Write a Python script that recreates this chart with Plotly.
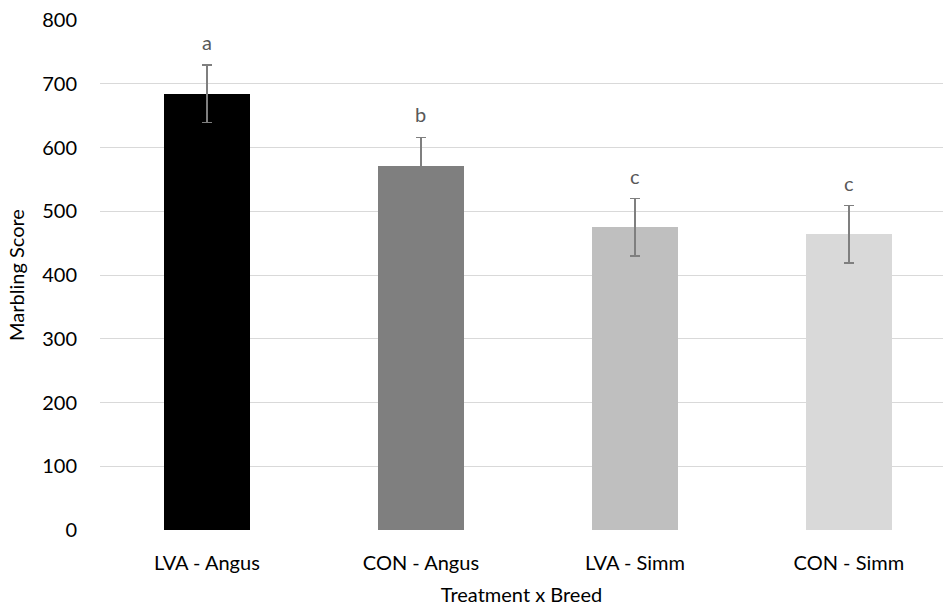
import plotly.graph_objects as go

# Marbling score by treatment x breed
categories = ["LVA - Angus", "CON - Angus", "LVA - Simm", "CON - Simm"]
marbling = [684, 571, 475, 464]
sem = [45, 45, 45, 45]
letters = ["a", "b", "c", "c"]
bar_colors = ["#000000", "#7f7f7f", "#bfbfbf", "#d9d9d9"]
y_ticks = [0, 100, 200, 300, 400, 500, 600, 700, 800]

FONT = "Lato"
SIZE = 20

fig = go.Figure()
fig.add_trace(go.Bar(
    x=list(range(len(categories))),
    y=marbling,
    width=0.4,
    marker=dict(color=bar_colors, line=dict(width=0)),
    error_y=dict(type="data", array=sem, visible=True,
                 color="#7f7f7f", thickness=1.6, width=5),
    showlegend=False,
    hoverinfo="skip",
))

# significance letters above each error bar
for i, (v, e, lab) in enumerate(zip(marbling, sem, letters)):
    fig.add_annotation(
        x=i, y=v + e, text=lab, showarrow=False,
        yanchor="bottom", yshift=9,
        font=dict(family=FONT, size=SIZE, color="#595959"),
    )

fig.update_layout(
    width=943, height=609,
    margin=dict(l=100, r=0, t=20, b=79),
    paper_bgcolor="white", plot_bgcolor="white",
    font=dict(family=FONT, size=SIZE, color="#000000"),
    bargap=0,
)
fig.update_xaxes(
    range=[-0.5, 3.44],
    tickvals=list(range(len(categories))),
    ticktext=categories,
    ticks="outside", ticklen=15, tickcolor="rgba(0,0,0,0)",
    showgrid=False, zeroline=False, showline=False,
    tickfont=dict(family=FONT, size=SIZE, color="#000000"),
    title=dict(text="Treatment x Breed", standoff=14,
               font=dict(family=FONT, size=SIZE, color="#000000")),
)
fig.update_yaxes(
    range=[0, 800],
    tickvals=y_ticks,
    ticks="outside", ticklen=18, tickcolor="rgba(0,0,0,0)",
    showgrid=True, gridcolor="#d9d9d9", gridwidth=1.3,
    zeroline=False, showline=False,
    tickfont=dict(family=FONT, size=SIZE, color="#000000"),
    title=dict(text="Marbling Score", standoff=12,
               font=dict(family=FONT, size=SIZE, color="#000000")),
)

fig.write_html("out.html")
